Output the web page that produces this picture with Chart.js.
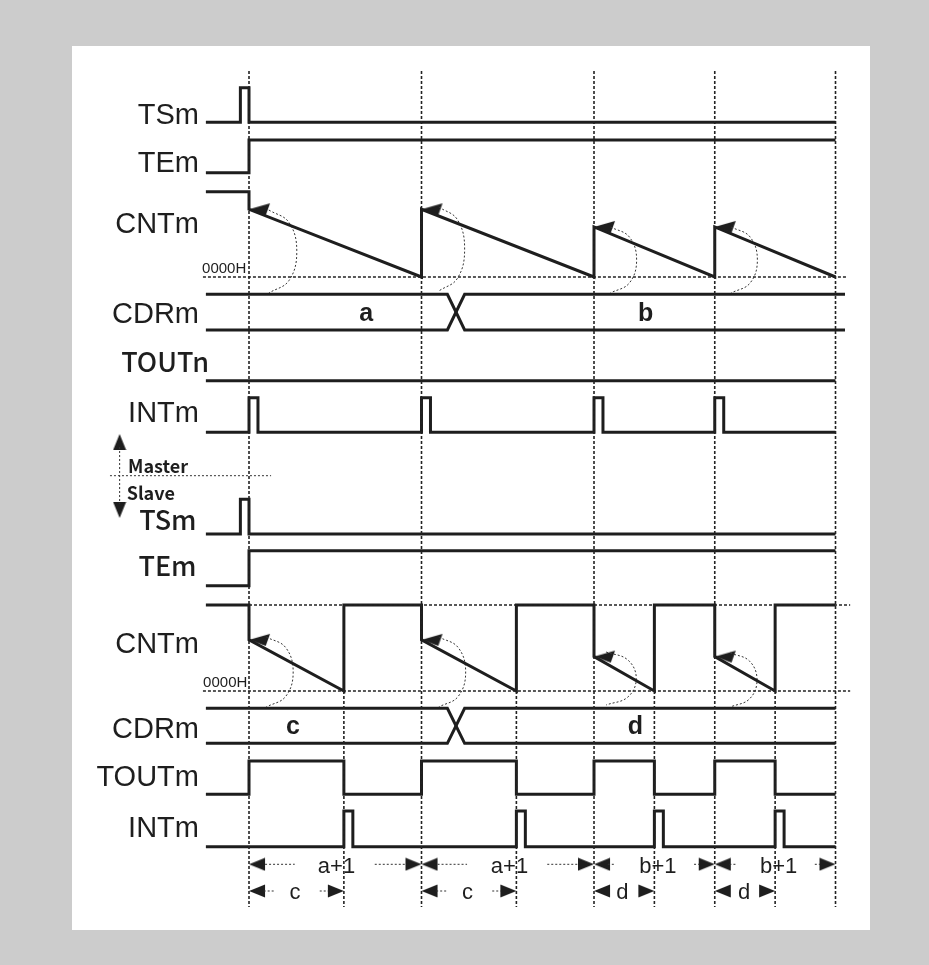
<!DOCTYPE html>
<html>
<head>
<meta charset="utf-8">
<script src="https://cdn.jsdelivr.net/npm/chart.js@4"></script>
<style>
  html, body { margin: 0; padding: 0; }
  body { width: 929px; height: 965px; background: #cccccc; position: relative; overflow: hidden; }
  #panel { position: absolute; left: 72px; top: 46px; width: 798px; height: 884px; background: #ffffff; }
  #chart { position: absolute; left: 0; top: 0; }
</style>
</head>
<body>
<div id="panel"></div>
<canvas id="chart" width="929" height="965"></canvas>
<script>
// ---- data (time in count clocks, count start = 0) ----
const tBegin = -2.5;
const tEnd = 34;
const guideTimes = [0, 10, 20, 27, 34];          // master reload edges
const slaveEdgeTimes = [5.5, 15.5, 23.5, 30.5];   // slave underflow edges
const tsPulse = [-0.5, 0];
const intWidth = 0.52;
const busCross = [11.5, 12.5];

// counter values [time, count]
const masterCnt = [[-2.5, 12.6], [0, 12.6], [0, 10], [10, 0], [10, 10], [20, 0],
                   [20, 7.4], [27, 0], [27, 7.4], [34, 0]];
const slaveCnt = [[-2.5, 9.25], [0, 9.25], [0, 5.5], [5.5, 0], [5.5, 9.25], [10, 9.25],
                  [10, 5.5], [15.5, 0], [15.5, 9.25], [20, 9.25], [20, 3.7], [23.5, 0],
                  [23.5, 9.25], [27, 9.25], [27, 3.7], [30.5, 0], [30.5, 9.25], [34, 9.25]];
const slaveTout = [[-2.5, 0], [0, 0], [0, 1], [5.5, 1], [5.5, 0], [10, 0], [10, 1], [15.5, 1],
                   [15.5, 0], [20, 0], [20, 1], [23.5, 1], [23.5, 0], [27, 0], [27, 1],
                   [30.5, 1], [30.5, 0], [34, 0]];
const masterIntStarts = [0, 10, 20, 27];
const slaveIntStarts = [5.5, 15.5, 23.5, 30.5];
const masterReloads = [[0, 10], [10, 10], [20, 7.4], [27, 7.4]];
const slaveReloads = [[0, 5.5], [10, 5.5], [20, 3.7], [27, 3.7]];

const masterLabels = ['TSm', 'TEm', 'CNTm', 'CDRm', 'TOUTn', 'INTm'];
const slaveLabels = ['TSm', 'TEm', 'CNTm', 'CDRm', 'TOUTm', 'INTm'];
const busMaster = [['a', 6.8], ['b', 23.0]];
const busSlave = [['c', 2.55], ['d', 22.4]];
const spansTop = [[0, 10, 'a+1', 5.07], [10, 20, 'a+1', 15.1], [20, 27, 'b+1', 23.7], [27, 34, 'b+1', 30.7]];
const spansBottom = [[0, 5.5, 'c', 2.67], [10, 15.5, 'c', 12.67], [20, 23.5, 'd', 21.65], [27, 30.5, 'd', 28.7]];

// ---- layout (vertical positions, in canvas units) ----
const INK = '#1e1e1e';
const rowM = {
  TS: [122.3, 87.7], TE: [172.7, 140], CDR: [294.3, 330], TOUT: [380.7, 380.7], INT: [432.3, 397.7]
};
const rowS = {
  TS: [534, 499.3], TE: [585.7, 550.7], CDR: [708.3, 743.3], TOUT: [794.3, 761], INT: [846.7, 811]
};
const cntM = { zero: 277, per: 6.77 };
const cntS = { zero: 691, per: 9.3 };
const labelBaseM = [124, 171.7, 233, 323, 371.7, 422];
const labelBaseS = [530, 576, 653, 738, 786, 836.7];
const loopsM = [[1.15, 1.62, 210, 293], [11.0, 1.5, 207, 291], [20.95, 1.52, 227, 293], [27.95, 1.52, 227, 293]];
const loopsS = [[1.0, 1.56, 637, 707], [11.0, 1.56, 637, 707], [20.7, 1.75, 652, 705], [27.9, 1.55, 653, 707]];
const shaftsTop = [[0.93, 2.65], [7.29, 9.1], [10.93, 12.64], [17.29, 19.1], [20.8, 21.25], [25.8, 26.1], [27.85, 28.2], [32.8, 33.1]];
const shaftsBottom = [[0.85, 1.5], [4.1, 4.6], [10.85, 11.5], [14.1, 14.6]];
const spanY = [864.3, 891];

function lvl(row, v) { return row[0] + v * (row[1] - row[0]); }
function pts(list, yf) { return list.map(([x, v]) => ({ x: x, y: yf(v) })); }
function stepsOf(list, row) { return pts(list, v => lvl(row, v)); }
function pulseTrain(starts, w) {
  const out = [[tBegin, 0]];
  starts.forEach(s => { out.push([s, 0], [s, 1], [s + w, 1], [s + w, 0]); });
  out.push([tEnd, 0]);
  return out;
}
function busLines(row, endT) {
  const a = [[tBegin, 0], [busCross[0], 0], [busCross[1], 1], [endT, 1]];
  const b = [[tBegin, 1], [busCross[0], 1], [busCross[1], 0], [endT, 0]];
  return [stepsOf(a, row), stepsOf(b, row)];
}
function loopPts(l) {
  const [t0, w, yT, yB] = l;
  const hh = (yB - yT) / 2;
  return [{ x: t0, y: yT }, { x: t0 + 0.72 * w, y: yT + 0.3 * hh }, { x: t0 + w, y: yT + hh },
          { x: t0 + 0.72 * w, y: yB - 0.3 * hh }, { x: t0, y: yB }];
}

const datasets = [];
function line(data, o) {
  datasets.push(Object.assign({
    data: data, showLine: true, pointRadius: 0, borderColor: INK, borderWidth: 3,
    tension: 0, fill: false, borderJoinStyle: 'miter', borderCapStyle: 'butt'
  }, o || {}));
}
const guide = { borderWidth: 1.6, borderDash: [3, 2], borderColor: '#222' };
const dots = { borderWidth: 1, borderDash: [2, 2], borderColor: '#333' };

// guides
guideTimes.forEach(t => line([{ x: t, y: 71 }, { x: t, y: 907 }], guide));
slaveEdgeTimes.forEach(t => line([{ x: t, y: cntS.zero }, { x: t, y: 907 }], guide));
line([{ x: -2.67, y: cntM.zero }, { x: 34.65, y: cntM.zero }], { borderWidth: 1.5, borderDash: [3, 2], borderColor: '#222' });
line([{ x: -2.67, y: cntS.zero }, { x: 34.85, y: cntS.zero }], { borderWidth: 1.5, borderDash: [3, 2], borderColor: '#222' });
line([{ x: 0, y: cntS.zero - 9.25 * cntS.per }, { x: 34.85, y: cntS.zero - 9.25 * cntS.per }], { borderWidth: 1.5, borderDash: [3, 2], borderColor: '#222' });
// master / slave divider
line([{ x: -8.06, y: 475.7 }, { x: 1.28, y: 475.7 }], dots);
line([{ x: -7.5, y: 447 }, { x: -7.5, y: 504 }], dots);

// master signals
line(stepsOf([[tBegin, 0], [tsPulse[0], 0], [tsPulse[0], 1], [tsPulse[1], 1], [tsPulse[1], 0], [tEnd, 0]], rowM.TS));
line(stepsOf([[tBegin, 0], [0, 0], [0, 1], [tEnd, 1]], rowM.TE));
line(pts(masterCnt, v => cntM.zero - v * cntM.per));
busLines(rowM.CDR, 34.55).forEach(d => line(d));
line(stepsOf([[tBegin, 0], [tEnd, 0]], rowM.TOUT));
line(stepsOf(pulseTrain(masterIntStarts, intWidth), rowM.INT));

// slave signals
line(stepsOf([[tBegin, 0], [tsPulse[0], 0], [tsPulse[0], 1], [tsPulse[1], 1], [tsPulse[1], 0], [tEnd, 0]], rowS.TS));
line(stepsOf([[tBegin, 0], [0, 0], [0, 1], [tEnd, 1]], rowS.TE));
line(pts(slaveCnt, v => cntS.zero - v * cntS.per));
busLines(rowS.CDR, 34).forEach(d => line(d));
line(stepsOf(slaveTout, rowS.TOUT));
line(stepsOf(pulseTrain(slaveIntStarts, intWidth), rowS.INT));

// reload loops
loopsM.concat(loopsS).forEach(l => line(loopPts(l), Object.assign({ tension: 0.4 }, dots)));

// span shafts
shaftsTop.forEach(s => line([{ x: s[0], y: spanY[0] }, { x: s[1], y: spanY[0] }], dots));
shaftsBottom.forEach(s => line([{ x: s[0], y: spanY[1] }, { x: s[1], y: spanY[1] }], dots));

// arrowhead images (tip at the image centre)
function arrowImg(w, h, verts) {
  const c = document.createElement('canvas');
  c.width = w; c.height = h;
  const g = c.getContext('2d');
  g.fillStyle = INK;
  g.beginPath();
  g.moveTo(verts[0][0], verts[0][1]);
  verts.slice(1).forEach(v => g.lineTo(v[0], v[1]));
  g.closePath();
  g.fill();
  return c;
}
const headDim = arrowImg(34, 14, [[17, 7], [33, 0.6], [33, 13.4]]);
const headCnt = arrowImg(44, 16, [[22, 8], [43, 2], [38.7, 14]]);

function heads(points, img, rot) {
  datasets.push({
    data: points, showLine: false, pointStyle: img, pointRadius: 6,
    pointRotation: rot, borderColor: INK, backgroundColor: INK
  });
}
heads(pts(masterReloads, v => cntM.zero - v * cntM.per), headCnt, 0);
heads(pts(slaveReloads, v => cntS.zero - v * cntS.per), headCnt, 0);
heads(spansTop.map(s => ({ x: s[0], y: spanY[0] })), headDim, 0);
heads(spansTop.map(s => ({ x: s[1], y: spanY[0] })), headDim, 180);
heads(spansBottom.map(s => ({ x: s[0], y: spanY[1] })), headDim, 0);
heads(spansBottom.map(s => ({ x: s[1], y: spanY[1] })), headDim, 180);
heads([{ x: -7.5, y: 434 }], headDim, 90);
heads([{ x: -7.5, y: 518 }], headDim, -90);

// text
const SANS = '"Liberation Sans", Arial, sans-serif';
const GOTHIC = '"Noto Sans CJK JP", "Noto Sans", sans-serif';
const textPlugin = {
  id: 'texts',
  afterDatasetsDraw(chart) {
    const { ctx, scales } = chart;
    const X = t => scales.x.getPixelForValue(t);
    const Y = v => scales.y.getPixelForValue(v);
    function put(s, t, y, font, align) {
      ctx.font = font;
      ctx.textAlign = align || 'left';
      ctx.fillText(s, X(t), Y(y));
    }
    ctx.save();
    ctx.fillStyle = INK;
    ctx.textBaseline = 'alphabetic';
    masterLabels.forEach((s, i) => {
      if (s === 'TOUTn') put(s, -2.32, labelBaseM[i], '500 27px ' + GOTHIC, 'right');
      else put(s, -2.9, labelBaseM[i], '29px ' + SANS, 'right');
    });
    slaveLabels.forEach((s, i) => {
      if (i < 2) put(s, -3.04, labelBaseS[i], '500 27px ' + GOTHIC, 'right');
      else put(s, -2.9, labelBaseS[i], '29px ' + SANS, 'right');
    });
    put('0000H', -2.72, 273.3, '15px ' + SANS, 'left');
    put('0000H', -2.66, 687.3, '15px ' + SANS, 'left');
    busMaster.forEach(b => put(b[0], b[1], 321, 'bold 25px ' + SANS, 'center'));
    busSlave.forEach(b => put(b[0], b[1], 734, 'bold 25px ' + SANS, 'center'));
    spansTop.forEach(s => put(s[2], s[3], 873, '22px ' + SANS, 'center'));
    spansBottom.forEach(s => put(s[2], s[3], 899, '22px ' + SANS, 'center'));
    put('Master', -7.01, 473, 'bold 18px ' + GOTHIC, 'left');
    put('Slave', -7.09, 500, 'bold 18px ' + GOTHIC, 'left');
    ctx.restore();
  }
};

new Chart(document.getElementById('chart'), {
  type: 'scatter',
  data: { datasets: datasets },
  options: {
    responsive: false,
    animation: false,
    events: [],
    devicePixelRatio: 1,
    layout: { padding: 0, autoPadding: false },
    scales: {
      x: { type: 'linear', min: -14.435, max: 39.42, display: false },
      y: { type: 'linear', min: 0, max: 965, reverse: true, display: false }
    },
    plugins: { legend: { display: false }, tooltip: { enabled: false } }
  },
  plugins: [textPlugin]
});
</script>
</body>
</html>
